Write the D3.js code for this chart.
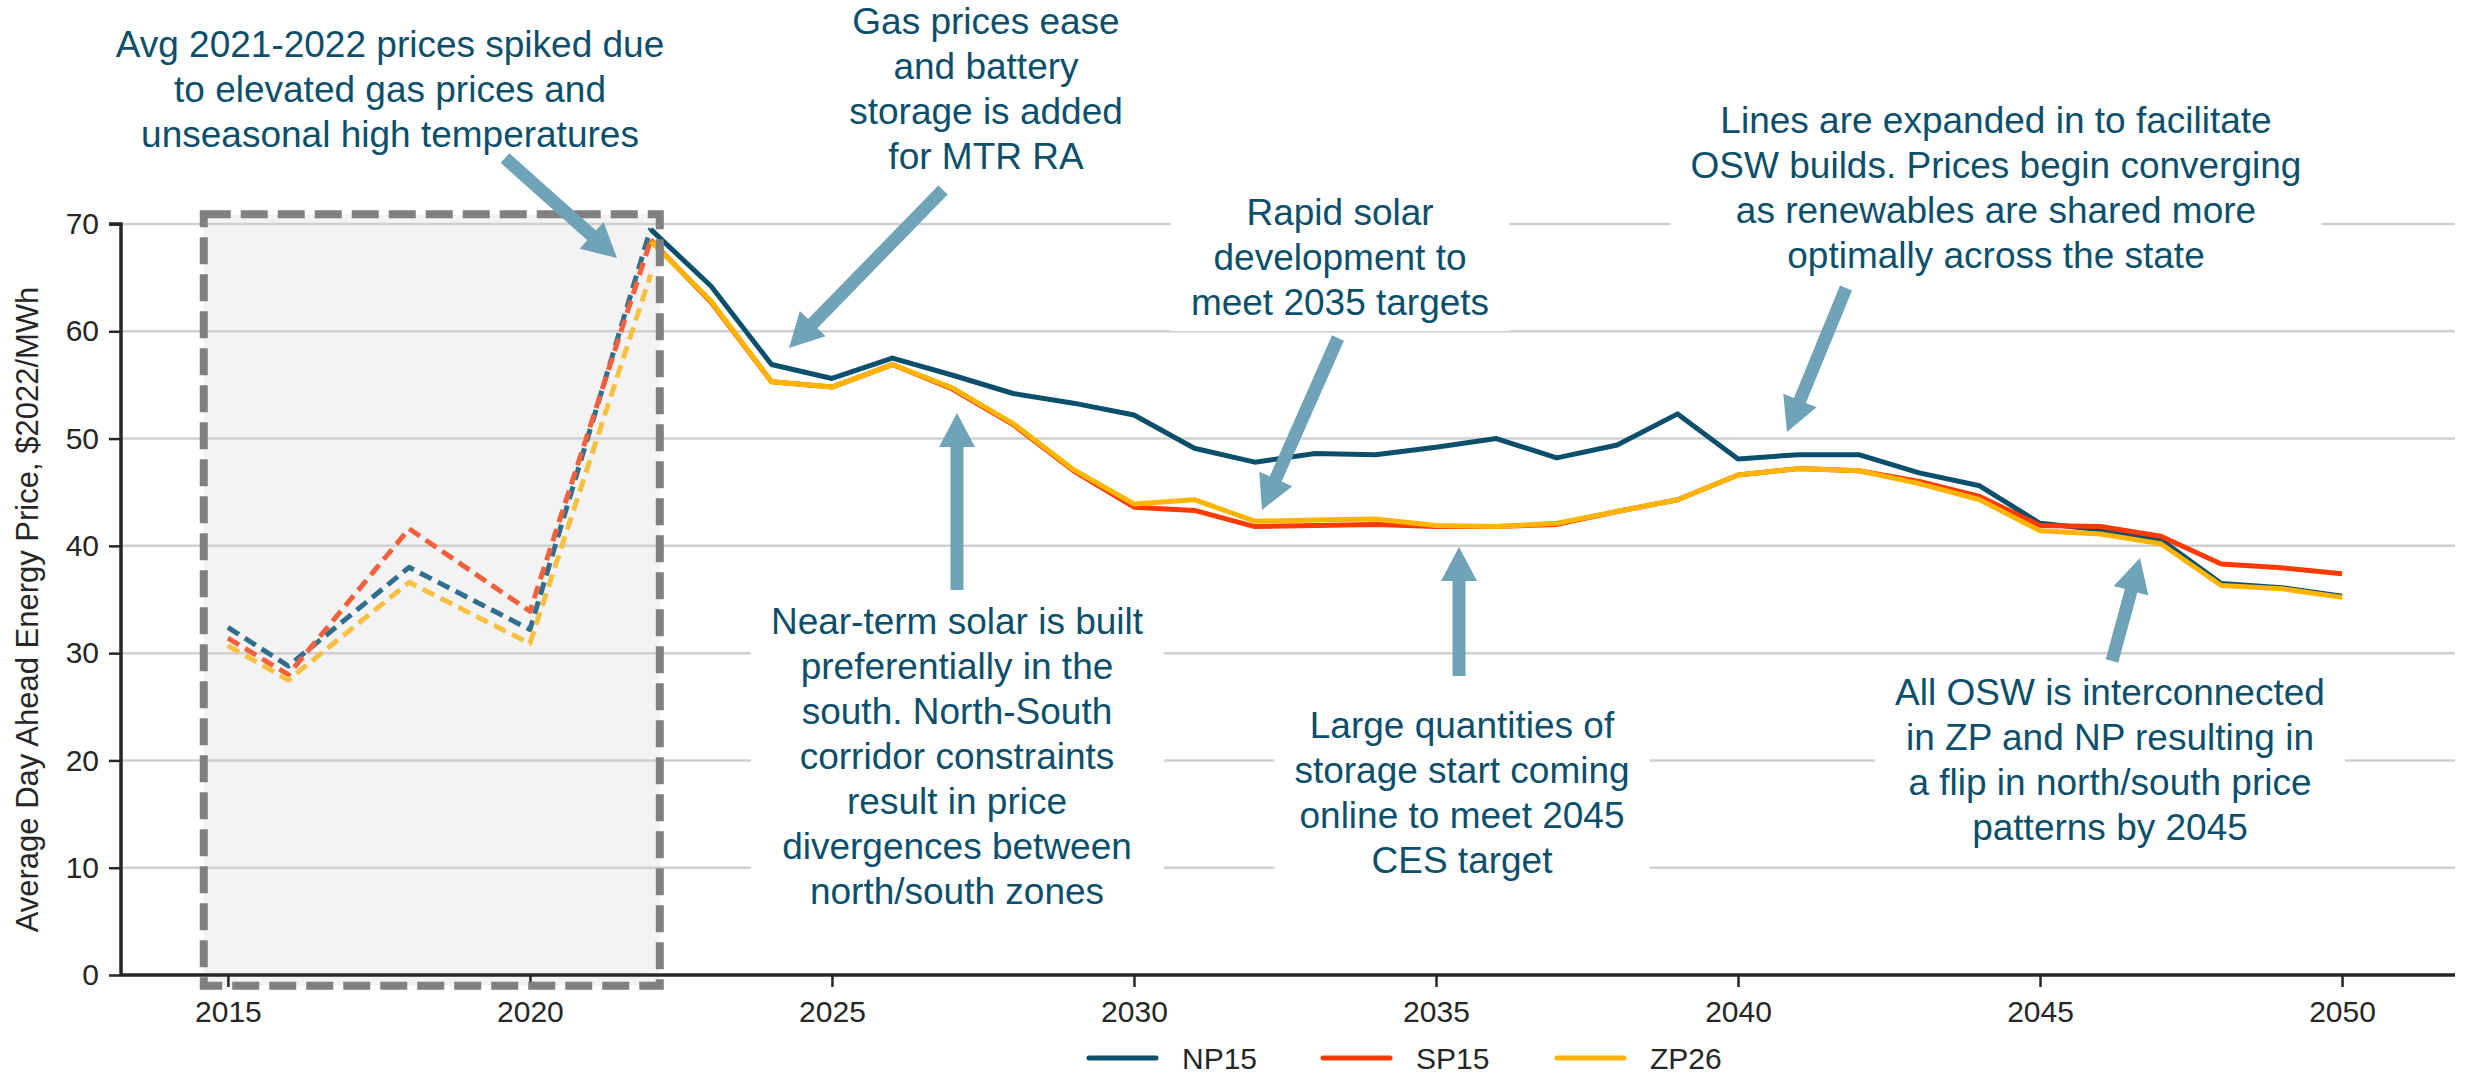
<!DOCTYPE html>
<html><head><meta charset="utf-8">
<script src="https://cdn.jsdelivr.net/npm/d3@7"></script>
<style>
body{margin:0;background:#fff}
svg{display:block}
text{font-family:"Liberation Sans",Arial,sans-serif}
</style>
</head><body>
<svg id="c" width="2468" height="1077"></svg>
<script>
// ---------------- data ----------------
const seriesNames = ["NP15","SP15","ZP26"];
const histYears = [2015,2016,2018,2020,2022];
const histNP15 = [32.4,28.8,38.0,32.2,69.6];
const histSP15 = [31.4,28.0,41.6,33.9,68.5];
const histZP26 = [30.7,27.5,36.6,30.9,65.3];

const years = [2022,2023,2024,2025,2026,2027,2028,2029,2030,2031,2032,2033,2034,2035,2036,2037,2038,2039,2040,2041,2042,2043,2044,2045,2046,2047,2048,2049,2050];
const NP15 = [69.5,64.2,56.9,55.6,57.5,55.9,54.2,53.3,52.2,49.1,47.8,48.6,48.5,49.2,50.0,48.2,49.4,52.3,48.1,48.5,48.5,46.8,45.6,42.1,41.5,40.6,36.5,36.1,35.3];
const SP15 = [68.5,62.7,55.3,54.8,56.9,54.6,51.3,47.0,43.6,43.3,41.8,41.9,42.0,41.8,41.8,42.0,43.2,44.3,46.6,47.2,47.0,46.0,44.6,41.9,41.8,40.9,38.3,37.95,37.4];
const ZP26 = [68.4,62.8,55.3,54.8,56.9,54.7,51.4,47.1,43.9,44.3,42.3,42.4,42.5,41.9,41.8,42.1,43.2,44.3,46.6,47.2,47.0,45.8,44.3,41.4,41.1,40.2,36.3,36.0,35.2];

const xTicks = [2015,2020,2025,2030,2035,2040,2045,2050];
const yTicks = [0,10,20,30,40,50,60,70];
const shadeYears = [2014.6,2022.15];
const yLabel = "Average Day Ahead Energy Price, $2022/MWh";

const annotations = [
  {lines:["Avg 2021-2022 prices spiked due","to elevated gas prices and","unseasonal high temperatures"], x:390, y:57, box:false},
  {lines:["Gas prices ease","and battery","storage is added","for MTR RA"], x:986, y:34, box:false},
  {lines:["Rapid solar","development to","meet 2035 targets"], x:1340, y:225, box:true},
  {lines:["Lines are expanded in to facilitate","OSW builds. Prices begin converging","as renewables are shared more","optimally across the state"], x:1996, y:133, box:true},
  {lines:["Near-term solar is built","preferentially in the","south. North-South","corridor constraints","result in price","divergences between","north/south zones"], x:957, y:634, box:true},
  {lines:["Large quantities of","storage start coming","online to meet 2045","CES target"], x:1462, y:738, box:true},
  {lines:["All OSW is interconnected","in ZP and NP resulting in","a flip in north/south price","patterns by 2045"], x:2110, y:705, box:true}
];
const arrows = [
  {from:[505,158], to:[617,258]},
  {from:[943,190], to:[789,348]},
  {from:[957,590], to:[957,413]},
  {from:[1338,338], to:[1262,510]},
  {from:[1459,676], to:[1459,547]},
  {from:[1846,288], to:[1787,432]},
  {from:[2112,661], to:[2140,558]}
];

// ---------------- styles ----------------
const solidColors = {NP15:"#0b4f6c", SP15:"#ff3a00", ZP26:"#ffb400"};
const dashColors  = {NP15:"#2f6f8d", SP15:"#f2603c", ZP26:"#f6c040"};
const textColor = "#0b4f6c";
const arrowColor = "#6fa3b8";

const svg = d3.select("#c");
const x = d3.scaleLinear().domain([2013.23, 2051.87]).range([121, 2455]);
const y = d3.scaleLinear().domain([0, 70]).range([975, 224]);

// shaded historical box (fill)
const shadeTop = y(70.9), shadeBot = y(-1.0);
svg.append("rect")
  .attr("x", x(shadeYears[0])).attr("y", shadeTop)
  .attr("width", x(shadeYears[1]) - x(shadeYears[0]))
  .attr("height", shadeBot - shadeTop)
  .attr("fill", "#f3f3f3");

// gridlines
svg.append("g").selectAll("line").data(yTicks.filter(d => d > 0)).join("line")
  .attr("x1", x.range()[0]).attr("x2", x.range()[1])
  .attr("y1", d => y(d)).attr("y2", d => y(d))
  .attr("stroke", "#d0d0d0").attr("stroke-width", 2.5);

// annotation white boxes
const annG = svg.append("g");
const fs = 37, lh = 45;
annotations.forEach(a => {
  const g = annG.append("g");
  const bg = g.append("rect").attr("fill", "#fff");
  const t = g.append("text")
    .attr("text-anchor", "middle")
    .attr("font-size", fs)
    .attr("fill", textColor);
  a.lines.forEach((l, i) => {
    t.append("tspan").attr("x", a.x).attr("y", a.y + i * lh).text(l);
  });
  a.g = g; a.t = t; a.bg = bg;
});

// axes
const yAxis = d3.axisLeft(y).tickValues(yTicks).tickSize(12).tickPadding(10).tickFormat(d3.format("d"));
const yg = svg.append("g").attr("transform", `translate(${x.range()[0]},0)`).call(yAxis);
yg.select(".domain").attr("stroke", "#262626").attr("stroke-width", 3.5).attr("d", `M-12,${y(70)}H0V${y(0)}`);
yg.selectAll(".tick line").attr("stroke", "#262626").attr("stroke-width", 2.5);
yg.selectAll(".tick text").attr("font-size", 30).attr("fill", "#262626")
  .attr("font-family", "Liberation Sans, Arial, sans-serif");

const xAxis = d3.axisBottom(x).tickValues(xTicks).tickSize(12).tickPadding(14).tickFormat(d3.format("d"));
const xg = svg.append("g").attr("transform", `translate(0,${y(0)})`).call(xAxis);
xg.select(".domain").attr("stroke", "#262626").attr("stroke-width", 3.5).attr("d", `M${x.range()[0]},0H${x.range()[1]}`);
xg.selectAll(".tick line").attr("stroke", "#262626").attr("stroke-width", 2.5);
xg.selectAll(".tick text").attr("font-size", 30).attr("fill", "#262626")
  .attr("font-family", "Liberation Sans, Arial, sans-serif");

svg.append("text")
  .attr("transform", `translate(38,${(y(0)+y(70))/2 + 10}) rotate(-90)`)
  .attr("text-anchor", "middle").attr("font-size", 31).attr("fill", "#262626")
  .text(yLabel);

// lines
const hist = {NP15: histNP15, SP15: histSP15, ZP26: histZP26};
const proj = {NP15: NP15, SP15: SP15, ZP26: ZP26};
const line = d3.line().x(d => x(d[0])).y(d => y(d[1]));
const lg = svg.append("g").attr("fill", "none").attr("stroke-linejoin", "round");
seriesNames.forEach(n => {
  lg.append("path")
    .attr("d", line(histYears.map((yr, i) => [yr, hist[n][i]])))
    .attr("stroke", dashColors[n]).attr("stroke-width", 5)
    .attr("stroke-dasharray", "13,7");
});
seriesNames.forEach(n => {
  lg.append("path")
    .attr("d", line(years.map((yr, i) => [yr, proj[n][i]])))
    .attr("stroke", solidColors[n]).attr("stroke-width", 5);
});

// dashed border of shaded box
svg.append("rect")
  .attr("x", x(shadeYears[0])).attr("y", shadeTop)
  .attr("width", x(shadeYears[1]) - x(shadeYears[0]))
  .attr("height", shadeBot - shadeTop)
  .attr("fill", "none").attr("stroke", "#808080").attr("stroke-width", 8)
  .attr("stroke-dasharray", "27,10");

// annotation backgrounds sized to text
annotations.forEach(a => {
  if (a.box) {
    const b = a.t.node().getBBox();
    a.bg.attr("x", b.x - 20).attr("y", b.y - 6).attr("width", b.width + 40).attr("height", b.height + 14);
  }
});

// arrows
const sw = 13, hw = 36, hl = 34;
function arrowPath(p0, p1) {
  const dx = p1[0] - p0[0], dy = p1[1] - p0[1];
  const L = Math.hypot(dx, dy), ux = dx / L, uy = dy / L, px = -uy, py = ux;
  const bx = p1[0] - ux * hl, by = p1[1] - uy * hl;
  const pts = [
    [p0[0] + px * sw/2, p0[1] + py * sw/2],
    [bx + px * sw/2, by + py * sw/2],
    [bx + px * hw/2, by + py * hw/2],
    p1,
    [bx - px * hw/2, by - py * hw/2],
    [bx - px * sw/2, by - py * sw/2],
    [p0[0] - px * sw/2, p0[1] - py * sw/2]
  ];
  return "M" + pts.map(p => p.join(",")).join("L") + "Z";
}
svg.append("g").selectAll("path").data(arrows).join("path")
  .attr("d", d => arrowPath(d.from, d.to))
  .attr("fill", arrowColor);

// bring annotation text groups forward (boxes stay behind lines? boxes don't overlap lines)
annotations.forEach(a => { a.t.raise(); svg.node().appendChild(a.t.node()); });

// legend
const legendX = [1089, 1323, 1557];
const leg = svg.append("g");
seriesNames.forEach((n, i) => {
  leg.append("line")
    .attr("x1", legendX[i]).attr("x2", legendX[i] + 67)
    .attr("y1", 1058).attr("y2", 1058)
    .attr("stroke", solidColors[n]).attr("stroke-width", 5).attr("stroke-linecap", "round");
  leg.append("text")
    .attr("x", legendX[i] + 93).attr("y", 1069)
    .attr("font-size", 30).attr("fill", "#262626").text(n);
});
</script>
</body></html>
